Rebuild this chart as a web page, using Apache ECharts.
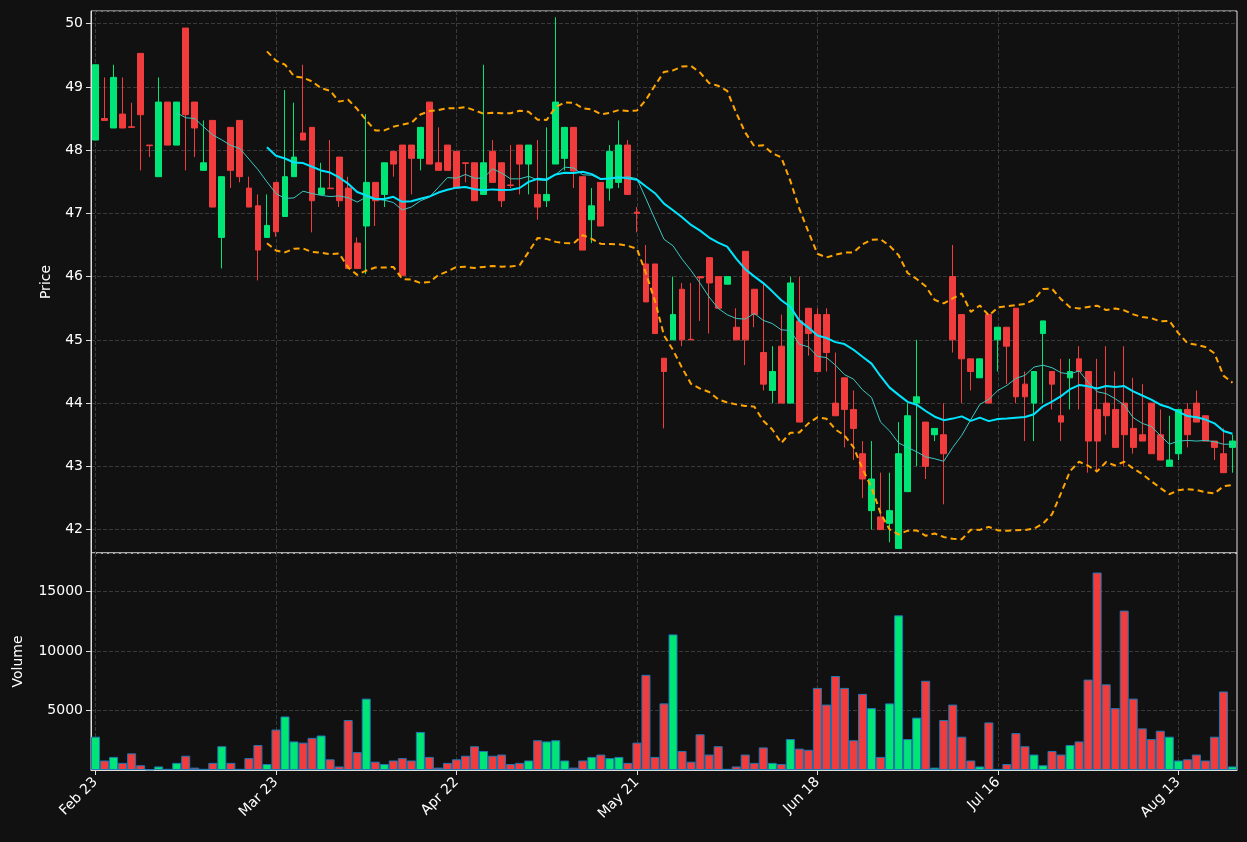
<!DOCTYPE html>
<html><head><meta charset="utf-8">
<script src="https://cdn.jsdelivr.net/npm/echarts@6/dist/echarts.min.js"></script>
<style>html,body{margin:0;background:#111111}#c{width:1247px;height:842px}</style>
</head><body><div id="c"></div>
<script>
const tickLabels = ["Feb 23","Mar 23","Apr 22","May 21","Jun 18","Jul 16","Aug 13"];
const opens = [48.16,48.5,48.35,48.57,48.37,49.53,48.08,47.58,48.76,48.08,49.93,48.76,47.68,48.47,46.62,48.36,48.47,47.4,47.12,46.62,47.49,46.95,47.58,48.27,48.36,47.3,47.4,47.89,47.4,46.53,46.8,47.49,47.3,47.98,48.08,48.08,47.87,48.76,47.8,48.08,47.98,47.8,47.8,47.3,47.98,47.8,47.45,48.08,47.78,47.3,47.2,47.78,47.87,48.36,47.58,46.9,47.49,47.4,47.49,48.08,47.02,46.2,46.2,44.71,45.0,45.8,45.01,46.0,46.3,46.0,45.88,45.2,46.4,45.8,44.8,44.2,44.9,44.0,45.3,45.5,45.4,45.4,44.0,44.4,43.9,43.2,42.3,42.2,42.1,41.7,42.6,44.0,43.7,43.5,43.5,46.0,45.4,44.7,44.4,45.4,45.0,45.2,45.5,44.3,44.0,45.1,44.5,43.8,44.4,44.7,44.5,43.9,44.0,43.9,44.0,43.6,43.5,44.0,43.5,43.0,43.2,43.9,44.0,43.8,43.4,43.2,43.3];
const closes = [49.35,48.47,49.15,48.35,48.36,48.56,48.07,48.76,48.08,48.76,48.56,48.35,47.8,47.1,47.58,47.68,47.58,47.1,46.42,46.81,46.71,47.58,47.89,48.16,47.2,47.4,47.39,47.2,46.13,46.13,47.49,47.2,47.8,47.78,46.02,47.87,48.36,47.78,47.68,47.68,47.4,47.79,47.2,47.8,47.49,47.2,47.44,47.78,48.08,47.1,47.3,48.76,48.36,47.67,46.42,47.12,46.8,47.98,48.08,47.3,47.0,45.6,45.1,44.5,45.4,45.0,45.0,45.98,45.9,45.5,46.0,45.0,45.0,45.4,44.3,44.5,44.0,45.9,43.7,45.1,44.5,44.8,43.8,43.9,43.6,42.8,42.8,42.0,42.3,43.2,43.8,44.1,43.0,43.6,43.2,45.0,44.7,44.5,44.7,44.0,45.2,44.9,44.1,44.1,44.5,45.3,44.3,43.7,44.5,44.5,43.4,43.4,43.8,43.3,43.5,43.3,43.4,43.2,43.1,43.1,43.9,43.5,43.7,43.4,43.3,42.9,43.4];
const highs = [49.35,49.15,49.35,49.15,48.75,49.53,48.08,49.15,48.76,48.76,49.93,48.76,48.47,48.47,47.58,48.36,48.47,47.58,47.3,47.3,47.49,48.95,48.75,49.35,48.36,47.8,48.16,47.89,47.58,46.62,48.57,47.49,47.8,47.98,48.08,48.08,48.36,48.76,48.36,48.08,47.98,47.8,47.8,49.35,48.16,47.8,48.08,48.08,48.08,48.16,48.36,50.1,48.36,48.36,47.58,47.4,47.49,48.08,48.47,48.16,47.1,46.5,46.2,44.71,46.0,45.9,45.9,46.0,46.3,46.0,46.0,45.5,46.4,45.8,45.9,44.9,45.4,46.0,46.0,45.5,45.5,45.5,44.8,44.4,44.2,43.4,43.4,42.9,42.9,43.7,44.0,45.0,43.7,43.6,44.0,46.5,45.4,44.7,44.7,45.4,45.2,45.2,45.5,44.5,44.5,45.3,44.5,44.7,44.7,44.9,44.5,44.7,44.9,44.5,44.9,44.4,44.3,44.0,43.9,43.8,43.9,44.0,44.2,43.8,43.4,43.6,43.5];
const lows = [48.16,48.47,48.35,48.35,48.35,47.68,47.89,47.58,48.08,48.08,47.68,47.89,47.68,47.1,46.13,47.4,47.49,47.1,45.94,46.62,46.63,46.95,47.58,48.16,46.7,47.3,47.39,47.1,46.13,46.13,46.04,46.8,47.1,47.58,46.02,47.3,47.68,47.78,47.68,47.68,47.4,47.49,47.2,47.3,47.49,47.1,47.4,47.3,47.3,46.9,47.1,47.78,47.68,47.4,46.42,46.53,46.8,47.2,47.4,47.3,46.7,45.6,45.1,43.6,45.0,44.9,45.0,45.3,45.1,45.5,45.88,45.0,44.6,45.2,44.2,44.0,44.0,44.0,43.7,44.75,44.5,44.5,43.8,43.3,43.1,42.5,42.0,42.0,41.8,41.7,42.6,43.0,42.8,43.4,42.4,44.8,44.0,44.2,44.4,44.0,44.5,44.3,44.0,43.4,43.4,44.0,43.9,43.4,43.9,43.9,42.9,42.9,43.5,43.3,43.0,43.2,43.4,43.2,43.1,43.0,43.1,43.3,43.7,43.4,43.1,42.9,42.9];
const volumes = [2800,800,1100,600,1400,400,50,300,100,600,1200,200,100,600,2000,600,100,1000,2100,500,3400,4500,2400,2300,2700,2900,900,300,4200,1500,6000,700,500,800,1000,800,3200,1100,200,600,900,1200,2000,1600,1200,1300,500,600,800,2500,2400,2500,800,200,800,1100,1300,1000,1100,600,2300,8000,1100,5600,11400,1600,700,3000,1300,2000,100,300,1300,600,1900,600,500,2600,1800,1700,6900,5500,7900,6900,2500,6400,5200,1100,5600,13000,2600,4400,7500,200,4200,5500,2800,800,300,4000,100,500,3100,2000,1300,400,1600,1300,2100,2400,7600,16600,7200,5200,13400,6000,3500,2600,3300,2800,800,900,1300,800,2800,6600,300];

const UP = '#00e676', DOWN = '#f03c3c';
const cats = closes.map((_, i) => 'd' + i);
function sma(p, i) { if (i < p - 1) return '-'; let s = 0; for (let k = i - p + 1; k <= i; k++) s += closes[k]; return s / p; }
const ma10 = closes.map((_, i) => sma(10, i));
const ma20 = closes.map((_, i) => sma(20, i));
const bbU = [], bbL = [];
closes.forEach((_, i) => {
  if (i < 19) { bbU.push('-'); bbL.push('-'); return; }
  const m = ma20[i]; let v = 0; for (let k = i - 19; k <= i; k++) v += (closes[k] - m) ** 2;
  const sd = Math.sqrt(v / 20); bbU.push(m + 2 * sd); bbL.push(m - 2 * sd);
});
const candle = opens.map((o, i) => [o, closes[i], lows[i], highs[i]]);
const vol = volumes.map((v, i) => ({ value: v, itemStyle: { color: closes[i] >= opens[i] ? UP : DOWN } }));

const txt = { color: '#ffffff', fontSize: 14, fontFamily: 'DejaVu Sans' };
const split = { show: true, lineStyle: { color: '#3a3a3a', type: 'dashed' } };
const showIdx = (i) => i % 20 === 0;
const xSplit = { show: true, alignWithLabel: true, interval: (i) => showIdx(i), lineStyle: { color: '#3a3a3a', type: 'dashed' } };
const chart = echarts.init(document.getElementById('c'));
chart.setOption({
  backgroundColor: '#111111', animation: false,
  grid: [
    { left: 91, right: 10, top: 11, height: 542, show: true, borderColor: '#dddddd', borderWidth: 1, backgroundColor: 'transparent' },
    { left: 91, right: 10, top: 553, height: 217, show: true, borderColor: '#dddddd', borderWidth: 1, backgroundColor: 'transparent' }
  ],
  xAxis: [
    { type: 'category', data: cats, gridIndex: 0, boundaryGap: true, axisLine: { show: false }, axisTick: { show: false, alignWithLabel: true }, axisLabel: { show: false },
      splitLine: xSplit },
    { type: 'category', data: cats, gridIndex: 1, boundaryGap: true, axisLine: { lineStyle: { color: '#dddddd' } },
      axisTick: { show: true, alignWithLabel: true, interval: (i) => showIdx(i), lineStyle: { color: '#dddddd' } },
      axisLabel: Object.assign({ interval: (i) => showIdx(i), rotate: 45, margin: 10, formatter: (v, i) => tickLabels[i / 20] || '' }, txt),
      splitLine: xSplit }
  ],
  yAxis: [
    { type: 'value', gridIndex: 0, min: 41.63, max: 50.2, minInterval: 1, maxInterval: 1, name: 'Price', nameLocation: 'middle', nameGap: 38, nameRotate: 90, nameTextStyle: txt,
      axisLine: { show: true, lineStyle: { color: '#dddddd' } }, axisTick: { show: true, lineStyle: { color: '#dddddd' } },
      axisLabel: Object.assign({ showMinLabel: false, showMaxLabel: false, formatter: (v) => Math.abs(v - Math.round(v)) < 1e-6 ? String(Math.round(v)) : '' }, txt), splitLine: split },
    { type: 'value', gridIndex: 1, min: 0, max: 18240, interval: 5000, name: 'Volume', nameLocation: 'middle', nameGap: 66, nameRotate: 90, nameTextStyle: txt,
      axisLine: { show: true, lineStyle: { color: '#dddddd' } }, axisTick: { show: true, lineStyle: { color: '#dddddd' } },
      axisLabel: Object.assign({ showMinLabel: false, showMaxLabel: false, formatter: (v) => String(v) }, txt), splitLine: split }
  ],
  series: [
    { type: 'candlestick', xAxisIndex: 0, yAxisIndex: 0, data: candle, barWidth: '70%',
      itemStyle: { color: UP, color0: DOWN, borderColor: UP, borderColor0: DOWN, borderWidth: 1 } },
    { type: 'line', data: ma10, xAxisIndex: 0, yAxisIndex: 0, symbol: 'none', lineStyle: { color: '#3cc8c0', width: 1 } },
    { type: 'line', data: ma20, xAxisIndex: 0, yAxisIndex: 0, symbol: 'none', lineStyle: { color: '#00e5ff', width: 2 } },
    { type: 'line', data: bbU, xAxisIndex: 0, yAxisIndex: 0, symbol: 'none', lineStyle: { color: '#ffa500', width: 2, type: [6, 4] } },
    { type: 'line', data: bbL, xAxisIndex: 0, yAxisIndex: 0, symbol: 'none', lineStyle: { color: '#ffa500', width: 2, type: [6, 4] } },
    { type: 'bar', data: vol, xAxisIndex: 1, yAxisIndex: 1, barWidth: '100%', itemStyle: { borderColor: '#1f77b4', borderWidth: 1 } }
  ]
});
</script></body></html>
